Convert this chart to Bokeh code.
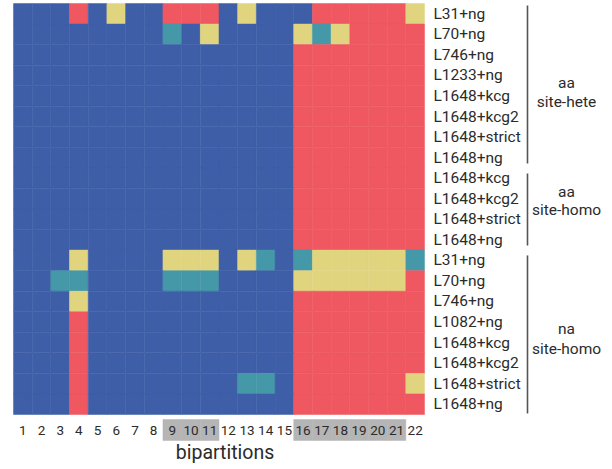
from bokeh.plotting import figure
from bokeh.models import Range1d
from bokeh.core.properties import value
from bokeh.embed import file_html
from bokeh.resources import INLINE

# ---------------- data ----------------
columns = [str(i) for i in range(1, 23)]
highlighted = ["9", "10", "11", "16", "17", "18", "19", "20", "21"]

row_labels = [
    "L31+ng", "L70+ng", "L746+ng", "L1233+ng", "L1648+kcg", "L1648+kcg2", "L1648+strict", "L1648+ng",
    "L1648+kcg", "L1648+kcg2", "L1648+strict", "L1648+ng",
    "L31+ng", "L70+ng", "L746+ng", "L1082+ng", "L1648+kcg", "L1648+kcg2", "L1648+strict", "L1648+ng",
]
group_names = [["aa", "site-hete"], ["aa", "site-homo"], ["na", "site-homo"]]
group_sizes = [8, 4, 8]

# state codes: 0 blue, 1 red, 2 yellow, 3 teal
states = [
    [0, 0, 0, 1, 0, 2, 0, 0, 1, 1, 1, 0, 2, 0, 0, 0, 1, 1, 1, 1, 1, 2],
    [0, 0, 0, 0, 0, 0, 0, 0, 3, 0, 2, 0, 0, 0, 0, 2, 3, 2, 1, 1, 1, 1],
    [0, 0, 0, 0, 0, 0, 0, 0, 0, 0, 0, 0, 0, 0, 0, 1, 1, 1, 1, 1, 1, 1],
    [0, 0, 0, 0, 0, 0, 0, 0, 0, 0, 0, 0, 0, 0, 0, 1, 1, 1, 1, 1, 1, 1],
    [0, 0, 0, 0, 0, 0, 0, 0, 0, 0, 0, 0, 0, 0, 0, 1, 1, 1, 1, 1, 1, 1],
    [0, 0, 0, 0, 0, 0, 0, 0, 0, 0, 0, 0, 0, 0, 0, 1, 1, 1, 1, 1, 1, 1],
    [0, 0, 0, 0, 0, 0, 0, 0, 0, 0, 0, 0, 0, 0, 0, 1, 1, 1, 1, 1, 1, 1],
    [0, 0, 0, 0, 0, 0, 0, 0, 0, 0, 0, 0, 0, 0, 0, 1, 1, 1, 1, 1, 1, 1],
    [0, 0, 0, 0, 0, 0, 0, 0, 0, 0, 0, 0, 0, 0, 0, 1, 1, 1, 1, 1, 1, 1],
    [0, 0, 0, 0, 0, 0, 0, 0, 0, 0, 0, 0, 0, 0, 0, 1, 1, 1, 1, 1, 1, 1],
    [0, 0, 0, 0, 0, 0, 0, 0, 0, 0, 0, 0, 0, 0, 0, 1, 1, 1, 1, 1, 1, 1],
    [0, 0, 0, 0, 0, 0, 0, 0, 0, 0, 0, 0, 0, 0, 0, 1, 1, 1, 1, 1, 1, 1],
    [0, 0, 0, 2, 0, 0, 0, 0, 2, 2, 2, 0, 2, 3, 0, 3, 2, 2, 2, 2, 2, 3],
    [0, 0, 3, 3, 0, 0, 0, 0, 3, 3, 3, 0, 0, 0, 0, 2, 2, 2, 2, 2, 2, 1],
    [0, 0, 0, 2, 0, 0, 0, 0, 0, 0, 0, 0, 0, 0, 0, 1, 1, 1, 1, 1, 1, 1],
    [0, 0, 0, 1, 0, 0, 0, 0, 0, 0, 0, 0, 0, 0, 0, 1, 1, 1, 1, 1, 1, 1],
    [0, 0, 0, 1, 0, 0, 0, 0, 0, 0, 0, 0, 0, 0, 0, 1, 1, 1, 1, 1, 1, 1],
    [0, 0, 0, 1, 0, 0, 0, 0, 0, 0, 0, 0, 0, 0, 0, 1, 1, 1, 1, 1, 1, 1],
    [0, 0, 0, 1, 0, 0, 0, 0, 0, 0, 0, 0, 3, 3, 0, 1, 1, 1, 1, 1, 1, 2],
    [0, 0, 0, 1, 0, 0, 0, 0, 0, 0, 0, 0, 0, 0, 0, 1, 1, 1, 1, 1, 1, 1],
]
palette = ["#3e5ea8", "#ef5761", "#e0d47f", "#4598a8"]

# ---------------- layout ----------------
W, H = 604, 466
left_px, top_px = 13, 3
cw = 411 / 22
rh = 411 / 20

def xd(px):  # figure px -> data x
    return 0.5 + (px - left_px) / cw

def yd(py):  # figure px -> data y
    return 0.5 + (py - top_px) / rh

p = figure(width=W, height=H, output_backend="svg", toolbar_location=None,
           x_range=Range1d(0.5 - left_px / cw, 0.5 + (W - left_px) / cw),
           y_range=Range1d(0.5 + (H - top_px) / rh, 0.5 - top_px / rh),
           min_border=0, min_border_left=0, min_border_right=0,
           min_border_top=0, min_border_bottom=0)
p.axis.visible = False
p.grid.visible = False
p.outline_line_color = None
p.background_fill_color = "white"

FONT = value("Roboto")
TXT = "#2b2b2b"

# heatmap cells
xs, ys, cs = [], [], []
for r, row in enumerate(states):
    for c, s in enumerate(row):
        xs.append(c + 1)
        ys.append(r + 1)
        cs.append(palette[s])
p.rect(x=xs, y=ys, width=1, height=1, fill_color=cs, line_color=cs, line_width=0.5)

# grey boxes behind highlighted ticks
hx = [columns.index(h) + 1 for h in highlighted]
yb0, yb1 = yd(419), yd(440)
p.rect(x=hx, y=[(yb0 + yb1) / 2] * len(hx), width=1, height=abs(yb1 - yb0),
       fill_color="#b5b5b5", line_color="#b5b5b5", line_width=0.5)

# x tick labels
p.text(x=list(range(1, 23)), y=[yd(430)] * 22, text=columns, text_align="center",
       text_baseline="middle", text_font=FONT, text_font_size="13.5px", text_color=TXT)

# x axis title
p.text(x=[xd(224.5)], y=[yd(452)], text=["bipartitions"], text_align="center",
       text_baseline="middle", text_font=FONT, text_font_size="19.5px", text_color=TXT)

# row labels
p.text(x=[xd(433)] * 20, y=list(range(1, 21)), text=row_labels, text_align="left",
       text_baseline="middle", text_font=FONT, text_font_size="15.5px", text_color=TXT)

# brackets and group labels
br_start = [0.6, 8.77, 12.76]
br_end = [8.29, 12.28, 20.45]
lab_y = [[4.39, 5.27], [9.68, 10.57], [16.36, 17.29]]
bx = xd(527)
p.segment(x0=[bx] * 3, y0=br_start, x1=[bx] * 3, y1=br_end, line_color="#555555", line_width=1.6)
gx, gy, gt = [], [], []
for names, yy in zip(group_names, lab_y):
    for n, y in zip(names, yy):
        gx.append(xd(566))
        gy.append(y)
        gt.append(n)
p.text(x=gx, y=gy, text=gt, text_align="center", text_baseline="middle",
       text_font=FONT, text_font_size="15.5px", text_color=TXT)

open("out.html", "w").write(file_html(p, INLINE))
